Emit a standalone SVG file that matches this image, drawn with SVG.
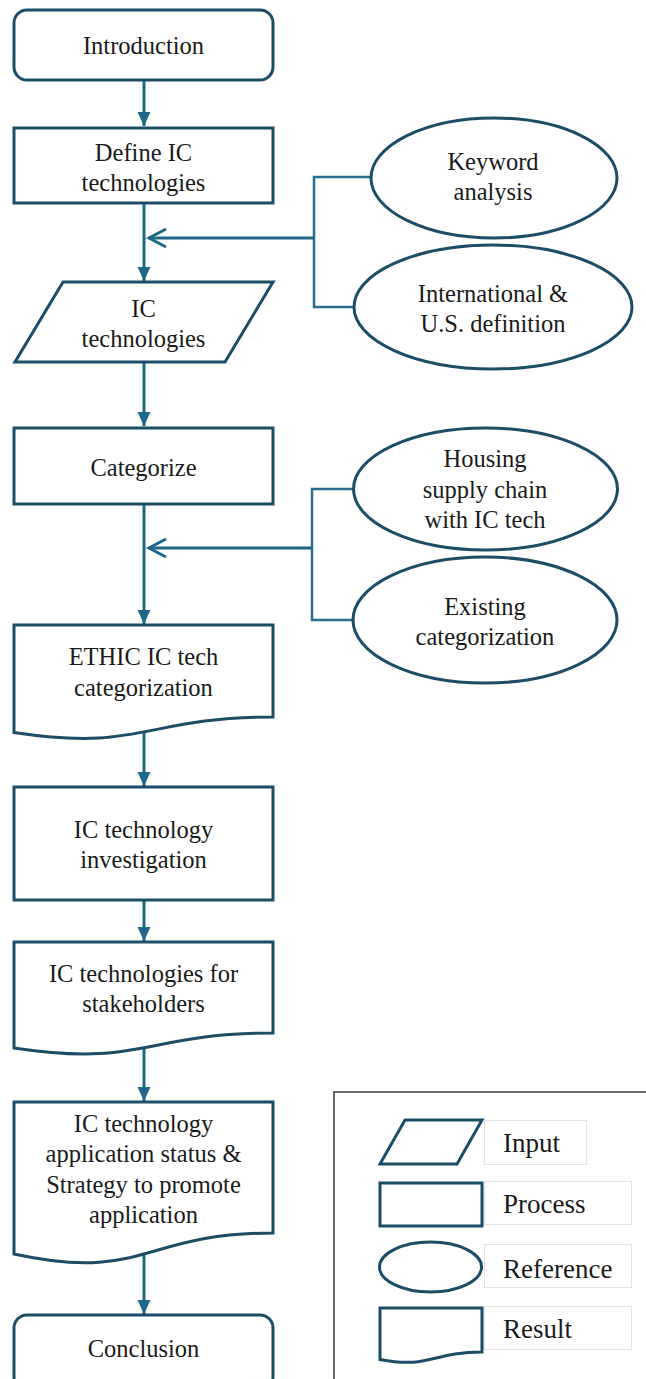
<svg xmlns="http://www.w3.org/2000/svg" width="646" height="1379" viewBox="0 0 646 1379">
<style>
.n{fill:#fff;stroke:#1b4d66;stroke-width:3}
.t{font-family:"Liberation Serif","Times New Roman",serif;font-size:24.5px;fill:#1a1a1a;text-anchor:middle}
.lt{font-family:"Liberation Serif","Times New Roman",serif;font-size:27px;fill:#1a1a1a}
.c{fill:none;stroke:#1f6787;stroke-width:3}
.b{fill:none;stroke:#2a6f8f;stroke-width:2.5}
.lb{fill:#fff;stroke:#e2e2e2;stroke-width:1}
</style>
<defs>
<marker id="ah" markerUnits="userSpaceOnUse" markerWidth="16" markerHeight="16" viewBox="0 0 16 16" refX="14" refY="8" orient="auto">
<path d="M0,1.5 L14,8 L0,14.5 Z" fill="#1f6787"/>
</marker>
<marker id="oh" markerUnits="userSpaceOnUse" markerWidth="24" markerHeight="24" viewBox="-20 0 24 24" refX="1" refY="12" orient="auto" overflow="visible">
<path d="M-16,3 L1,12 L-16,21" fill="none" stroke="#1f6787" stroke-width="3"/>
</marker>
</defs>
<g id="connectors">
<line class="c" x1="144" y1="80" x2="144" y2="126" marker-end="url(#ah)"/>
<line class="c" x1="144" y1="203" x2="144" y2="281" marker-end="url(#ah)"/>
<line class="c" x1="144" y1="362" x2="144" y2="426" marker-end="url(#ah)"/>
<line class="c" x1="144" y1="504" x2="144" y2="624" marker-end="url(#ah)"/>
<line class="c" x1="144" y1="732" x2="144" y2="786" marker-end="url(#ah)"/>
<line class="c" x1="144" y1="900" x2="144" y2="941" marker-end="url(#ah)"/>
<line class="c" x1="144" y1="1048" x2="144" y2="1101" marker-end="url(#ah)"/>
<line class="c" x1="144" y1="1254" x2="144" y2="1314" marker-end="url(#ah)"/>
<path class="b" d="M371,177 H314 V307 H354"/>
<line class="c" x1="314" y1="238" x2="149" y2="238" marker-end="url(#oh)"/>
<path class="b" d="M354,489 H312 V620 H354"/>
<line class="c" x1="312" y1="548" x2="149" y2="548" marker-end="url(#oh)"/>
</g>
<g id="introduction">
<rect class="n" x="14" y="10" width="259" height="70" rx="13"/>
<text class="t" x="143.5" y="54">Introduction</text>
</g>
<g id="define">
<rect class="n" x="14" y="128" width="259" height="75"/>
<text class="t" x="143.5" y="161">Define IC</text>
<text class="t" x="143.5" y="191">technologies</text>
</g>
<g id="keyword">
<ellipse class="n" cx="494" cy="178" rx="123" ry="60"/>
<text class="t" x="493" y="170">Keyword</text>
<text class="t" x="493" y="200">analysis</text>
</g>
<g id="international">
<ellipse class="n" cx="493" cy="307" rx="139" ry="62"/>
<text class="t" x="493" y="302">International &amp;</text>
<text class="t" x="493" y="332">U.S. definition</text>
</g>
<g id="ictech">
<path class="n" d="M63,282 H273 L225,362 H15 Z"/>
<text class="t" x="143.5" y="317">IC</text>
<text class="t" x="143.5" y="347">technologies</text>
</g>
<g id="categorize">
<rect class="n" x="14" y="428" width="259" height="76"/>
<text class="t" x="143.5" y="476">Categorize</text>
</g>
<g id="housing">
<ellipse class="n" cx="485.5" cy="489" rx="132" ry="61"/>
<text class="t" x="485" y="467">Housing</text>
<text class="t" x="485" y="498">supply chain</text>
<text class="t" x="485" y="528">with IC tech</text>
</g>
<g id="existing">
<ellipse class="n" cx="485" cy="620" rx="132" ry="63"/>
<text class="t" x="485" y="615">Existing</text>
<text class="t" x="485" y="645">categorization</text>
</g>
<g id="ethic">
<path class="n" d="M14,625 H273 V717 C143.5,717 143.5,752 14,732.5 Z"/>
<text class="t" x="143.5" y="665">ETHIC IC tech</text>
<text class="t" x="143.5" y="696">categorization</text>
</g>
<g id="investigation">
<rect class="n" x="14" y="787" width="259" height="113"/>
<text class="t" x="143.5" y="838">IC technology</text>
<text class="t" x="143.5" y="868">investigation</text>
</g>
<g id="stakeholders">
<path class="n" d="M14,942 H273 V1033 C143.5,1033 143.5,1067.6 14,1048 Z"/>
<text class="t" x="143.5" y="982">IC technologies for</text>
<text class="t" x="143.5" y="1012">stakeholders</text>
</g>
<g id="application">
<path class="n" d="M14,1102 H273 V1233 C143.5,1233 143.5,1282.4 14,1254 Z"/>
<text class="t" x="143.5" y="1132">IC technology</text>
<text class="t" x="143.5" y="1162">application status &amp;</text>
<text class="t" x="143.5" y="1193">Strategy to promote</text>
<text class="t" x="143.5" y="1223">application</text>
</g>
<g id="conclusion">
<rect class="n" x="14" y="1315" width="259" height="75" rx="13"/>
<text class="t" x="143.5" y="1357">Conclusion</text>
</g>
<g id="legend">
<rect x="334" y="1092" width="330" height="300" fill="#fff" stroke="#3a3a3a" stroke-width="1.5"/>
<path class="n" d="M405,1120 H482 L457,1164 H380 Z"/>
<rect class="lb" x="484.5" y="1120.5" width="102" height="44"/>
<text class="lt" x="503" y="1152">Input</text>
<rect class="n" x="380" y="1183" width="102" height="43"/>
<rect class="lb" x="484.5" y="1181.5" width="147" height="43"/>
<text class="lt" x="503" y="1213">Process</text>
<ellipse class="n" cx="430.5" cy="1267" rx="51" ry="25"/>
<rect class="lb" x="484.5" y="1244.5" width="147" height="43"/>
<text class="lt" x="503" y="1278">Reference</text>
<path class="n" d="M380,1308 H482 V1352 C431,1352 431,1369 380,1359.5 Z"/>
<rect class="lb" x="484.5" y="1306.5" width="147" height="43"/>
<text class="lt" x="503" y="1338">Result</text>
</g>
</svg>
